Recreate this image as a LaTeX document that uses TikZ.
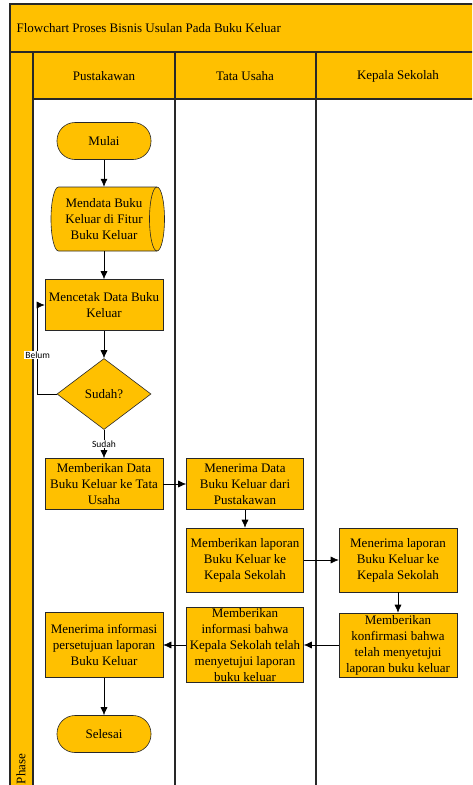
\documentclass[tikz,border=0pt]{standalone}
\usepackage{fontspec}
\setmainfont{Liberation Serif}
\newfontfamily\lblfont{Carlito}
\usetikzlibrary{shapes.geometric, arrows.meta, positioning, calc}
\definecolor{laneyellow}{RGB}{255,192,0}
\definecolor{laneline}{RGB}{40,40,40}

\tikzset{
	proc/.style={rectangle, draw=laneline, fill=laneyellow, line width=0.6pt, inner sep=0pt,
		minimum width=117pt, align=center, font=\fontsize{13}{16}\selectfont},
	term/.style={rectangle, rounded corners=18pt, draw=laneline, fill=laneyellow, line width=0.6pt,
		minimum width=94pt, minimum height=37pt, font=\fontsize{13}{16}\selectfont},
	storedbody/.style={rectangle, inner sep=0pt, minimum width=106pt, minimum height=64pt,
		align=center, font=\fontsize{13}{16}\selectfont},
	endcap/.style={x radius=7.5pt, y radius=32pt},
	flowarrow/.style={draw=black, line width=0.6pt, -{Latex[length=8pt,width=7pt]}},
	branchlabel/.style={fill=white, inner sep=1pt, font=\lblfont\fontsize{9.5}{11}\selectfont}
}

\begin{document}
\begin{tikzpicture}[x=1pt, y=-1pt]
\useasboundingbox (0,0) rectangle (472,785);
\begin{scope}
\clip (0,0) rectangle (472,785);

% Pool and lanes
\fill[laneyellow] (10,4) rectangle (480,99);
\fill[laneyellow] (10,52) rectangle (33,800);
\draw[laneline, line width=1.1pt] (10,4) rectangle (480,800);
\draw[laneline, line width=1.1pt] (10,52) -- (480,52);
\draw[laneline, line width=1.1pt] (33,99) -- (480,99);
\draw[laneline, line width=1.1pt] (33,52) -- (33,800);
\draw[laneline, line width=1.1pt] (175,52) -- (175,800);
\draw[laneline, line width=1.1pt] (316,52) -- (316,800);

\node[anchor=west, font=\fontsize{13}{16}\selectfont] (title) at (13,28) {Flowchart Proses Bisnis Usulan Pada Buku Keluar};
\node[font=\fontsize{13}{16}\selectfont] (hdr-pust) at (104,76) {Pustakawan};
\node[font=\fontsize{13}{16}\selectfont] (hdr-tu) at (245,76) {Tata Usaha};
\node[font=\fontsize{13}{16}\selectfont] (hdr-ks) at (398,76) {Kepala Sekolah};
\node[rotate=90, font=\fontsize{13}{16}\selectfont] (phase) at (21,769) {Phase};

% Pustakawan
\node[term] (mulai) at (104,141) {Mulai};
% stored data shape: drawn round an undrawn body node
\path[draw=laneline, fill=laneyellow, line width=0.6pt]
	(58.5,187) arc[start angle=90, end angle=270, endcap] -- (157,251)
	arc[start angle=-90, end angle=90, endcap] -- cycle;
\draw[laneline, line width=0.6pt] (157,187) arc[start angle=90, end angle=270, endcap];
\node[storedbody] (mendata) at (104,219) {Mendata Buku\\Keluar di Fitur\\Buku Keluar};
\node[proc, minimum width=118pt, minimum height=51pt] (cetak) at (104,305) {Mencetak Data Buku\\Keluar};
\node[diamond, draw=laneline, fill=laneyellow, line width=0.6pt, inner sep=0pt, aspect=1.32,
	minimum width=94pt, minimum height=71pt, font=\fontsize{13}{16}\selectfont] (sudah) at (104,394) {Sudah?};
\node[proc, minimum width=118pt, minimum height=51pt] (beri-data) at (104,484) {Memberikan Data\\Buku Keluar ke Tata\\Usaha};
\node[proc, minimum width=118pt, minimum height=65pt] (terima-info) at (104,645) {Menerima informasi\\persetujuan laporan\\Buku Keluar};
\node[term] (selesai) at (104,734) {Selesai};

% Tata Usaha
\node[proc, minimum height=51pt] (terima-data) at (245,484) {Menerima Data\\Buku Keluar dari\\Pustakawan};
\node[proc, minimum height=64pt] (beri-lap) at (245,560) {Memberikan laporan\\Buku Keluar ke\\Kepala Sekolah};
\node[proc, minimum height=75pt] (beri-info) at (245,645) {Memberikan\\informasi bahwa\\Kepala Sekolah telah\\menyetujui laporan\\buku keluar};

% Kepala Sekolah
\node[proc, minimum width=118pt, minimum height=64pt] (terima-lap) at (398,560) {Menerima laporan\\Buku Keluar ke\\Kepala Sekolah};
\node[proc, minimum width=118pt, minimum height=64pt] (konfirmasi) at (398,645) {Memberikan\\konfirmasi bahwa\\telah menyetujui\\laporan buku keluar};

% Arrows
\draw[flowarrow] (mulai) -- (mendata);
\draw[flowarrow] (mendata) -- (cetak);
\draw[flowarrow] (cetak) -- (sudah);
\coordinate (belum-turn) at ($(sudah.west)+(-19,0)$);
\draw[flowarrow] (sudah.west) -- (belum-turn) |- node[branchlabel, pos=0.22] {Belum} (cetak.west);
\draw[flowarrow] (sudah) -- node[branchlabel] {Sudah} (beri-data);
\draw[flowarrow] (beri-data) -- (terima-data);
\draw[flowarrow] (terima-data) -- (beri-lap);
\draw[flowarrow] (beri-lap) -- (terima-lap);
\draw[flowarrow] (terima-lap) -- (konfirmasi);
\draw[flowarrow] (konfirmasi) -- (beri-info);
\draw[flowarrow] (beri-info) -- (terima-info);
\draw[flowarrow] (terima-info) -- (selesai);
\end{scope}
\end{tikzpicture}
\end{document}
